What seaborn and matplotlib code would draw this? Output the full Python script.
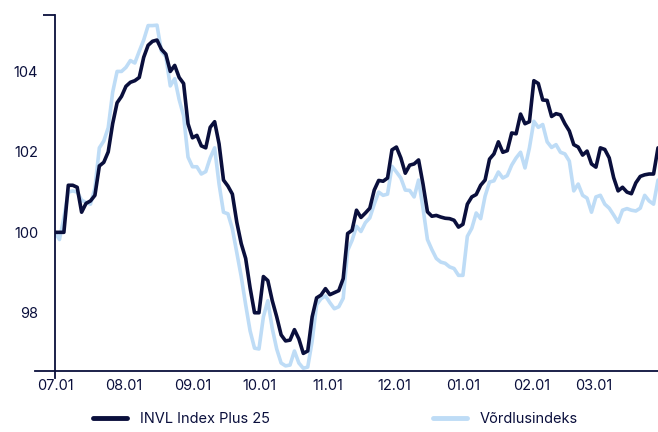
import pandas as pd
import matplotlib.pyplot as plt
import matplotlib.dates as mdates
import seaborn as sns

# values, every 2nd calendar day from 1 July
invl = [100.0, 100.0, 100.0, 101.17, 101.17, 101.12, 100.5, 100.72, 100.78, 100.92,
        101.65, 101.74, 102.0, 102.7, 103.22, 103.38, 103.63, 103.73, 103.77, 103.85,
        104.35, 104.65, 104.75, 104.78, 104.55, 104.43, 104.0, 104.15, 103.85, 103.7,
        102.7, 102.35, 102.41, 102.15, 102.1, 102.61, 102.75, 102.2, 101.3, 101.15,
        100.95, 100.25, 99.72, 99.35, 98.62, 98.0, 98.0, 98.9, 98.8, 98.3,
        97.9, 97.45, 97.3, 97.32, 97.58, 97.35, 96.99, 97.05, 97.9, 98.37,
        98.44, 98.6, 98.45, 98.5, 98.55, 98.85, 99.97, 100.05, 100.55, 100.37,
        100.48, 100.6, 101.05, 101.29, 101.27, 101.35, 102.05, 102.12, 101.85, 101.47,
        101.67, 101.7, 101.8, 101.2, 100.51, 100.4, 100.42, 100.38, 100.35, 100.34,
        100.3, 100.13, 100.2, 100.7, 100.88, 100.94, 101.17, 101.3, 101.82, 101.95,
        102.25, 101.99, 102.03, 102.47, 102.45, 102.94, 102.7, 102.75, 103.77, 103.7,
        103.29, 103.28, 102.88, 102.95, 102.92, 102.7, 102.52, 102.18, 102.12, 101.92,
        102.02, 101.7, 101.62, 102.1, 102.06, 101.85, 101.36, 101.03, 101.12, 101.0,
        100.96, 101.23, 101.39, 101.43, 101.45, 101.45, 102.1]

vordlus = [100.0, 99.82, 100.36, 101.0, 101.03, 101.0, 100.8, 100.74, 100.7, 101.1,
           102.1, 102.27, 102.6, 103.48, 104.0, 104.0, 104.1, 104.27, 104.21, 104.5,
           104.78, 105.14, 105.14, 105.15, 104.5, 104.37, 103.64, 103.82, 103.3, 102.9,
           101.87, 101.63, 101.63, 101.45, 101.51, 101.85, 102.1, 101.2, 100.5, 100.46,
           100.09, 99.5, 98.9, 98.2, 97.55, 97.12, 97.1, 97.9, 98.3, 97.61,
           97.1, 96.75, 96.68, 96.7, 97.05, 96.75, 96.62, 96.65, 97.3, 98.2,
           98.35, 98.42, 98.25, 98.1, 98.15, 98.36, 99.55, 99.8, 100.15, 100.02,
           100.24, 100.36, 100.7, 101.0, 100.92, 100.95, 101.64, 101.5, 101.35, 101.05,
           101.04, 100.88, 101.3, 100.6, 99.82, 99.57, 99.35, 99.26, 99.23, 99.14,
           99.1, 98.93, 98.93, 99.9, 100.1, 100.48, 100.34, 100.9, 101.25, 101.28,
           101.5, 101.35, 101.41, 101.67, 101.85, 101.99, 101.6, 102.1, 102.76, 102.61,
           102.68, 102.25, 102.11, 102.18, 101.99, 101.95, 101.77, 101.03, 101.2, 100.92,
           100.85, 100.5, 100.88, 100.92, 100.7, 100.6, 100.43, 100.25, 100.55, 100.59,
           100.55, 100.53, 100.6, 100.92, 100.78, 100.7, 101.3]

dates = pd.date_range('2024-07-01', periods=len(invl), freq='2D')
y_ticks = [98, 100, 102, 104]

navy = '#0a0f3c'
light = '#bedcf6'

sns.set_theme(style='white')
plt.rcParams['font.family'] = ['Inter', 'DejaVu Sans']

fig = plt.figure(figsize=(6.58, 4.32), dpi=100)
ax = fig.add_axes([0.0836, 0.141, 0.9164, 0.824])

sns.lineplot(x=dates, y=vordlus, ax=ax, color=light, linewidth=2.6, label='Võrdlusindeks')
sns.lineplot(x=dates, y=invl, ax=ax, color=navy, linewidth=2.6, label='INVL Index Plus 25')

ymin, ymax = 96.55, 105.4
ax.set_ylim(ymin, ymax)
ax.set_xlim(dates[0], dates[-1])
ax.set_yticks(y_ticks)
ax.set_yticks([ymax], minor=True)
ax.xaxis.set_major_locator(mdates.MonthLocator())
ax.xaxis.set_major_formatter(mdates.DateFormatter('%m.%d'))

ax.tick_params(axis='both', which='major', length=0, labelsize=10.5, colors=navy)
ax.tick_params(axis='y', which='major', pad=12)
ax.tick_params(axis='x', which='major', pad=6)
ax.tick_params(axis='y', which='minor', length=8.5, width=1.3, color=navy, left=True)

for side in ['top', 'right']:
    ax.spines[side].set_visible(False)
for side in ['left', 'bottom']:
    ax.spines[side].set_color(navy)
    ax.spines[side].set_linewidth(1.3)
ax.spines['left'].set_bounds(ymin - 0.17, ymax)
ax.spines['bottom'].set_bounds(mdates.date2num(dates[0]) - 9, mdates.date2num(dates[-1]))
ax.set_xlabel('')
ax.set_ylabel('')

ax.get_legend().remove()
handles, labels = ax.get_legend_handles_labels()
leg = fig.legend(handles[::-1], labels[::-1], loc='center', bbox_to_anchor=(0.51, 0.03),
                 ncol=2, frameon=False, fontsize=10.5, handlelength=2.3,
                 handletextpad=0.9, columnspacing=11.2)
for line in leg.get_lines():
    line.set_linewidth(3.5)
for t in leg.get_texts():
    t.set_color(navy)

plt.savefig('out.png', dpi=100)
